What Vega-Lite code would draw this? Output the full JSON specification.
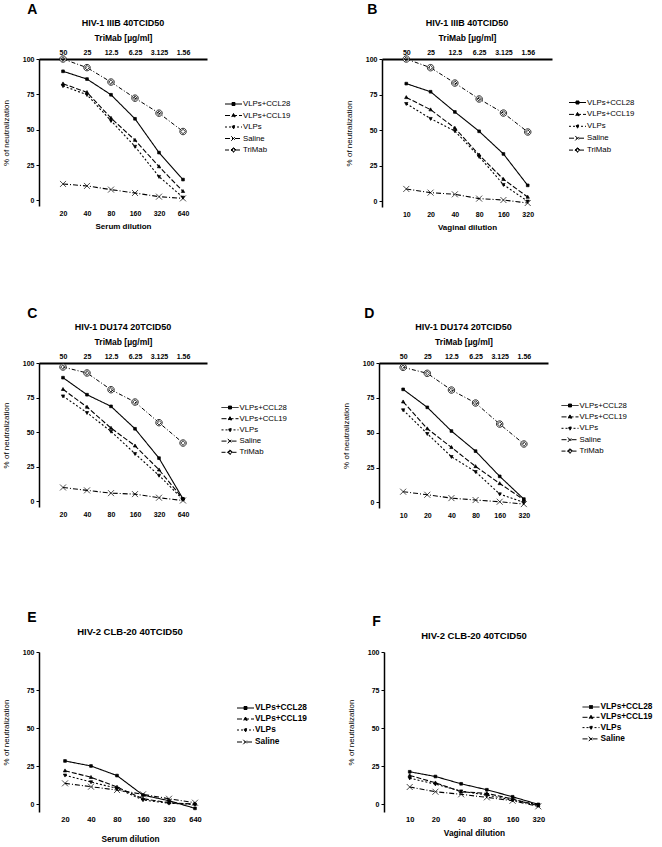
{
"$schema": "https://vega.github.io/schema/vega-lite/v6.json",
"padding": {"left": 2, "top": 3, "right": 0, "bottom": 0},
"config": {
  "font": "Liberation Sans",
  "view": {"stroke": null},
  "axis": {"grid": false, "labelFont": "Liberation Sans", "labelFontWeight": "bold", "labelFontSize": 7, "labelColor": "#000", "titleColor": "#000", "titleFont": "Liberation Sans", "titleFontWeight": "bold", "titleFontSize": 8},
  "axisY": {"domainColor": "#000", "domainWidth": 1.5, "tickColor": "#000", "tickSize": 3, "tickWidth": 1, "labelPadding": 2, "titleFontWeight": "normal", "titlePadding": 12},
  "legend": {"labelFont": "Liberation Sans", "labelColor": "#000", "padding": 0},
  "title": {"color": "#000", "fontWeight": "bold", "font": "Liberation Sans"}
},
"spacing": 92,
"vconcat": [
{
"spacing": 76,
"vconcat": [
{
"spacing": 54,
"hconcat": [
{
"title": {"text": "A", "anchor": "start", "fontSize": 14, "dx": 25, "offset": 2},
"vconcat": [{
  "width": 168, "height": 147,
  "title": {"text": "HIV-1 IIIB 40TCID50", "fontSize": 9, "anchor": "middle", "frame": "group", "offset": 5},
  "data": {"values": [
    {"series":"VLPs+CCL28","dilution":20,"value":91.3},{"series":"VLPs+CCL28","dilution":40,"value":85.8},{"series":"VLPs+CCL28","dilution":80,"value":74.7},{"series":"VLPs+CCL28","dilution":160,"value":57.7},{"series":"VLPs+CCL28","dilution":320,"value":33.8},{"series":"VLPs+CCL28","dilution":640,"value":14.7},
    {"series":"VLPs+CCL19","dilution":20,"value":82.5},{"series":"VLPs+CCL19","dilution":40,"value":76.4},{"series":"VLPs+CCL19","dilution":80,"value":58.2},{"series":"VLPs+CCL19","dilution":160,"value":42.6},{"series":"VLPs+CCL19","dilution":320,"value":23.9},{"series":"VLPs+CCL19","dilution":640,"value":6.4},
    {"series":"VLPs","dilution":20,"value":81},{"series":"VLPs","dilution":40,"value":74.7},{"series":"VLPs","dilution":80,"value":56.3},{"series":"VLPs","dilution":160,"value":38.1},{"series":"VLPs","dilution":320,"value":16.8},{"series":"VLPs","dilution":640,"value":2.1},
    {"series":"Saline","dilution":20,"value":11.6},{"series":"Saline","dilution":40,"value":10.2},{"series":"Saline","dilution":80,"value":7.6},{"series":"Saline","dilution":160,"value":5.2},{"series":"Saline","dilution":320,"value":2.6},{"series":"Saline","dilution":640,"value":1.4},
    {"series":"TriMab","dilution":20,"conc":50,"value":100},{"series":"TriMab","dilution":40,"conc":25,"value":93.9},{"series":"TriMab","dilution":80,"conc":12.5,"value":83.7},{"series":"TriMab","dilution":160,"conc":6.25,"value":72.3},{"series":"TriMab","dilution":320,"conc":3.125,"value":61.7},{"series":"TriMab","dilution":640,"conc":1.56,"value":48.7}
  ]},
  "encoding": {"y": {"field": "value", "type": "quantitative", "scale": {"domain": [-4, 100], "nice": false, "zero": false}, "axis": {"values": [0, 25, 50, 75, 100], "title": "% of neutralization"}}},
  "layer": [
    {"data": {"values": [{}]}, "mark": {"type": "rule", "strokeDash": [6, 4], "color": "#555", "strokeWidth": 1.5}, "encoding": {"y": {"datum": 50}}},
    {
      "encoding": {"x": {"field": "dilution", "type": "quantitative", "scale": {"type": "log", "base": 2, "domain": [10, 1280], "nice": false}, "axis": {"values": [20, 40, 80, 160, 320, 640], "format": "d", "domain": false, "ticks": false, "labelPadding": 3, "title": "Serum dilution", "titlePadding": 6}}},
      "layer": [
        {"transform": [{"filter": "datum.series !== 'TriMab'"}], "mark": {"type": "line", "color": "#000", "strokeWidth": 1.1},
         "encoding": {"strokeDash": {"field": "series", "scale": {"domain": ["VLPs+CCL28", "VLPs+CCL19", "VLPs", "Saline"], "range": [[1, 0], [5, 2], [2, 2], [5, 2, 1, 2]]}, "legend": null}}},
        {"transform": [{"filter": "datum.series !== 'TriMab'"}], "mark": {"type": "point", "filled": true, "fill": "#000", "stroke": "#000", "strokeWidth": 0.7, "size": 36, "opacity": 1},
         "encoding": {"shape": {"field": "series", "scale": {"domain": ["VLPs+CCL28", "VLPs+CCL19", "VLPs", "Saline"], "range": ["M-0.45,-0.45H0.45V0.45H-0.45Z", "M0,-0.6L0.55,0.4H-0.55Z", "M0,0.6L0.55,-0.4H-0.55Z", "M-1,-1L1,1M-1,1L1,-1"]}, "legend": null}}},
        {"mark": {"type": "point", "filled": true, "fill": "#000", "stroke": "#000", "strokeWidth": 1, "size": 100, "opacity": 0},
         "encoding": {
           "shape": {"field": "series", "scale": {"domain": ["VLPs+CCL28", "VLPs+CCL19", "VLPs", "Saline", "TriMab"], "range": ["M-1.7,0H1.7M-0.3,-0.3H0.3V0.3H-0.3Z", "M-1.7,0H1.7M0,-0.4L0.35,0.25H-0.35Z", "M-1.7,0H1.7M0,0.4L0.35,-0.25H-0.35Z", "M-1.7,0H1.7M-0.45,-0.45L0.45,0.45M-0.45,0.45L0.45,-0.45", "M-1.7,0H-0.5M0.5,0H1.7M0,-0.5L0.5,0L0,0.5L-0.5,0ZM0,-0.28L-0.28,0L0,0.28L0.28,0Z"]},
             "legend": {"title": null, "orient": "none", "legendX": 189, "legendY": 39.5, "symbolSize": 100, "symbolStrokeWidth": 1, "symbolOpacity": 1, "labelOffset": 4, "rowPadding": 1.5, "labelFontSize": 7.8}},
           "strokeDash": {"field": "series", "scale": {"domain": ["VLPs+CCL28", "VLPs+CCL19", "VLPs", "Saline", "TriMab"], "range": [[1, 0], [5, 2], [2, 2], [5, 2, 1, 2], [4, 2, 1, 2]]},
             "legend": {"title": null, "orient": "none", "legendX": 189, "legendY": 39.5, "symbolSize": 100, "symbolStrokeWidth": 1, "symbolOpacity": 1, "labelOffset": 4, "rowPadding": 1.5, "labelFontSize": 7.8}}
         }}
      ],
      "resolve": {"scale": {"shape": "independent", "strokeDash": "independent"}}
    },
    {
      "transform": [{"filter": "datum.series === 'TriMab'"}],
      "encoding": {"x": {"field": "conc", "type": "quantitative", "scale": {"type": "log", "base": 2, "domain": [0.78125, 100], "reverse": true, "nice": false}, "axis": {"orient": "top", "values": [50, 25, 12.5, 6.25, 3.125, 1.56], "format": "~g", "domain": true, "domainColor": "#000", "domainWidth": 2, "ticks": false, "labelPadding": 4, "title": "TriMab [µg/ml]", "titleFontSize": 8.5, "titlePadding": 6}}},
      "layer": [
        {"mark": {"type": "line", "color": "#000", "strokeWidth": 1, "strokeDash": [4, 2, 1, 2]}},
        {"mark": {"type": "point", "filled": true, "fill": "#fff", "stroke": "#000", "strokeWidth": 0.8, "size": 42, "opacity": 1, "shape": "M-1,0A1,1 0 1,0 1,0A1,1 0 1,0 -1,0ZM0,-0.7L0.7,0L0,0.7L-0.7,0Z"}}
      ]
    }
  ],
  "resolve": {"scale": {"x": "independent"}}
}]
},
{
"title": {"text": "B", "anchor": "start", "fontSize": 14, "dx": 22, "offset": 2},
"vconcat": [{
  "width": 170, "height": 148,
  "title": {"text": "HIV-1 IIIB 40TCID50", "fontSize": 9, "anchor": "middle", "frame": "group", "offset": 5},
  "data": {"values": [
    {"series":"VLPs+CCL28","dilution":10,"value":82.7},{"series":"VLPs+CCL28","dilution":20,"value":77},{"series":"VLPs+CCL28","dilution":40,"value":62.8},{"series":"VLPs+CCL28","dilution":80,"value":49.2},{"series":"VLPs+CCL28","dilution":160,"value":33.3},{"series":"VLPs+CCL28","dilution":320,"value":11.2},
    {"series":"VLPs+CCL19","dilution":10,"value":73},{"series":"VLPs+CCL19","dilution":20,"value":64.4},{"series":"VLPs+CCL19","dilution":40,"value":51.5},{"series":"VLPs+CCL19","dilution":80,"value":32.6},{"series":"VLPs+CCL19","dilution":160,"value":15.5},{"series":"VLPs+CCL19","dilution":320,"value":3},
    {"series":"VLPs","dilution":10,"value":68.6},{"series":"VLPs","dilution":20,"value":58.1},{"series":"VLPs","dilution":40,"value":49.4},{"series":"VLPs","dilution":80,"value":31.4},{"series":"VLPs","dilution":160,"value":11.7},{"series":"VLPs","dilution":320,"value":0},
    {"series":"Saline","dilution":10,"value":8.7},{"series":"Saline","dilution":20,"value":6.1},{"series":"Saline","dilution":40,"value":4.9},{"series":"Saline","dilution":80,"value":1.9},{"series":"Saline","dilution":160,"value":0.9},{"series":"Saline","dilution":320,"value":-1.2},
    {"series":"TriMab","dilution":10,"conc":50,"value":100},{"series":"TriMab","dilution":20,"conc":25,"value":93.9},{"series":"TriMab","dilution":40,"conc":12.5,"value":83.1},{"series":"TriMab","dilution":80,"conc":6.25,"value":71.9},{"series":"TriMab","dilution":160,"conc":3.125,"value":62},{"series":"TriMab","dilution":320,"conc":1.56,"value":48.7}
  ]},
  "encoding": {"y": {"field": "value", "type": "quantitative", "scale": {"domain": [-4, 100], "nice": false, "zero": false}, "axis": {"values": [0, 25, 50, 75, 100], "title": "% of neutralization"}}},
  "layer": [
    {"data": {"values": [{}]}, "mark": {"type": "rule", "strokeDash": [6, 4], "color": "#333", "strokeWidth": 1.3}, "encoding": {"y": {"datum": 50}}},
    {
      "encoding": {"x": {"field": "dilution", "type": "quantitative", "scale": {"type": "log", "base": 2, "domain": [5, 640], "nice": false}, "axis": {"values": [10, 20, 40, 80, 160, 320], "format": "d", "domain": false, "ticks": false, "labelPadding": 3, "title": "Vaginal dilution", "titlePadding": 6}}},
      "layer": [
        {"transform": [{"filter": "datum.series !== 'TriMab'"}], "mark": {"type": "line", "color": "#000", "strokeWidth": 1.1},
         "encoding": {"strokeDash": {"field": "series", "scale": {"domain": ["VLPs+CCL28", "VLPs+CCL19", "VLPs", "Saline"], "range": [[1, 0], [5, 2], [2, 2], [5, 2, 1, 2]]}, "legend": null}}},
        {"transform": [{"filter": "datum.series !== 'TriMab'"}], "mark": {"type": "point", "filled": true, "fill": "#000", "stroke": "#000", "strokeWidth": 0.7, "size": 36, "opacity": 1},
         "encoding": {"shape": {"field": "series", "scale": {"domain": ["VLPs+CCL28", "VLPs+CCL19", "VLPs", "Saline"], "range": ["M-0.45,-0.45H0.45V0.45H-0.45Z", "M0,-0.6L0.55,0.4H-0.55Z", "M0,0.6L0.55,-0.4H-0.55Z", "M-1,-1L1,1M-1,1L1,-1"]}, "legend": null}}},
        {"mark": {"type": "point", "filled": true, "fill": "#000", "stroke": "#000", "strokeWidth": 1, "size": 100, "opacity": 0},
         "encoding": {
           "shape": {"field": "series", "scale": {"domain": ["VLPs+CCL28", "VLPs+CCL19", "VLPs", "Saline", "TriMab"], "range": ["M-1.7,0H1.7M-0.3,-0.3H0.3V0.3H-0.3Z", "M-1.7,0H1.7M0,-0.4L0.35,0.25H-0.35Z", "M-1.7,0H1.7M0,0.4L0.35,-0.25H-0.35Z", "M-1.7,0H1.7M-0.45,-0.45L0.45,0.45M-0.45,0.45L0.45,-0.45", "M-1.7,0H-0.5M0.5,0H1.7M0,-0.5L0.5,0L0,0.5L-0.5,0ZM0,-0.28L-0.28,0L0,0.28L0.28,0Z"]},
             "legend": {"title": null, "orient": "none", "legendX": 190, "legendY": 38, "symbolSize": 100, "symbolStrokeWidth": 1, "symbolOpacity": 1, "labelOffset": 4, "rowPadding": 1.9, "labelFontSize": 7.8}},
           "strokeDash": {"field": "series", "scale": {"domain": ["VLPs+CCL28", "VLPs+CCL19", "VLPs", "Saline", "TriMab"], "range": [[1, 0], [5, 2], [2, 2], [5, 2, 1, 2], [4, 2, 1, 2]]},
             "legend": {"title": null, "orient": "none", "legendX": 190, "legendY": 38, "symbolSize": 100, "symbolStrokeWidth": 1, "symbolOpacity": 1, "labelOffset": 4, "rowPadding": 1.9, "labelFontSize": 7.8}}
         }}
      ],
      "resolve": {"scale": {"shape": "independent", "strokeDash": "independent"}}
    },
    {
      "transform": [{"filter": "datum.series === 'TriMab'"}],
      "encoding": {"x": {"field": "conc", "type": "quantitative", "scale": {"type": "log", "base": 2, "domain": [0.78125, 100], "reverse": true, "nice": false}, "axis": {"orient": "top", "values": [50, 25, 12.5, 6.25, 3.125, 1.56], "format": "~g", "domain": true, "domainColor": "#000", "domainWidth": 2, "ticks": false, "labelPadding": 4, "title": "TriMab [µg/ml]", "titleFontSize": 8.5, "titlePadding": 6}}},
      "layer": [
        {"mark": {"type": "line", "color": "#000", "strokeWidth": 1, "strokeDash": [4, 2, 1, 2]}},
        {"mark": {"type": "point", "filled": true, "fill": "#fff", "stroke": "#000", "strokeWidth": 0.8, "size": 42, "opacity": 1, "shape": "M-1,0A1,1 0 1,0 1,0A1,1 0 1,0 -1,0ZM0,-0.7L0.7,0L0,0.7L-0.7,0Z"}}
      ]
    }
  ],
  "resolve": {"scale": {"x": "independent"}}
}]
}
]
},
{
"spacing": 54,
"hconcat": [
{
"title": {"text": "C", "anchor": "start", "fontSize": 14, "dx": 25, "offset": 2},
"vconcat": [{
  "width": 168, "height": 144,
  "title": {"text": "HIV-1 DU174 20TCID50", "fontSize": 9, "anchor": "middle", "frame": "group", "offset": 5},
  "data": {"values": [
    {"series":"VLPs+CCL28","dilution":20,"value":89.4},{"series":"VLPs+CCL28","dilution":40,"value":77.1},{"series":"VLPs+CCL28","dilution":80,"value":68.7},{"series":"VLPs+CCL28","dilution":160,"value":52.5},{"series":"VLPs+CCL28","dilution":320,"value":31.3},{"series":"VLPs+CCL28","dilution":640,"value":1.9},
    {"series":"VLPs+CCL19","dilution":20,"value":81},{"series":"VLPs+CCL19","dilution":40,"value":68.2},{"series":"VLPs+CCL19","dilution":80,"value":53},{"series":"VLPs+CCL19","dilution":160,"value":40.2},{"series":"VLPs+CCL19","dilution":320,"value":22.9},{"series":"VLPs+CCL19","dilution":640,"value":1.9},
    {"series":"VLPs","dilution":20,"value":76.1},{"series":"VLPs","dilution":40,"value":64.1},{"series":"VLPs","dilution":80,"value":50.6},{"series":"VLPs","dilution":160,"value":34.5},{"series":"VLPs","dilution":320,"value":18.8},{"series":"VLPs","dilution":640,"value":1.4},
    {"series":"Saline","dilution":20,"value":10.1},{"series":"Saline","dilution":40,"value":8},{"series":"Saline","dilution":80,"value":6},{"series":"Saline","dilution":160,"value":5.3},{"series":"Saline","dilution":320,"value":2.7},{"series":"Saline","dilution":640,"value":0.7},
    {"series":"TriMab","dilution":20,"conc":50,"value":97.1},{"series":"TriMab","dilution":40,"conc":25,"value":92.8},{"series":"TriMab","dilution":80,"conc":12.5,"value":80.7},{"series":"TriMab","dilution":160,"conc":6.25,"value":71.8},{"series":"TriMab","dilution":320,"conc":3.125,"value":56.9},{"series":"TriMab","dilution":640,"conc":1.56,"value":42.2}
  ]},
  "encoding": {"y": {"field": "value", "type": "quantitative", "scale": {"domain": [-4, 100], "nice": false, "zero": false}, "axis": {"values": [0, 25, 50, 75, 100], "title": "% of neutralization"}}},
  "layer": [
    {"data": {"values": [{}]}, "mark": {"type": "rule", "color": "#999", "strokeWidth": 2}, "encoding": {"y": {"datum": 0}}},
    {"data": {"values": [{}]}, "mark": {"type": "rule", "strokeDash": [6, 4], "color": "#333", "strokeWidth": 1.3}, "encoding": {"y": {"datum": 50}}},
    {
      "encoding": {"x": {"field": "dilution", "type": "quantitative", "scale": {"type": "log", "base": 2, "domain": [10, 1280], "nice": false}, "axis": {"values": [20, 40, 80, 160, 320, 640], "format": "d", "domain": false, "ticks": false, "labelPadding": 3, "title": null}}},
      "layer": [
        {"transform": [{"filter": "datum.series !== 'TriMab'"}], "mark": {"type": "line", "color": "#000", "strokeWidth": 1.1},
         "encoding": {"strokeDash": {"field": "series", "scale": {"domain": ["VLPs+CCL28", "VLPs+CCL19", "VLPs", "Saline"], "range": [[1, 0], [5, 2], [2, 2], [5, 2, 1, 2]]}, "legend": null}}},
        {"transform": [{"filter": "datum.series !== 'TriMab'"}], "mark": {"type": "point", "filled": true, "fill": "#000", "stroke": "#000", "strokeWidth": 0.7, "size": 36, "opacity": 1},
         "encoding": {"shape": {"field": "series", "scale": {"domain": ["VLPs+CCL28", "VLPs+CCL19", "VLPs", "Saline"], "range": ["M-0.45,-0.45H0.45V0.45H-0.45Z", "M0,-0.6L0.55,0.4H-0.55Z", "M0,0.6L0.55,-0.4H-0.55Z", "M-1,-1L1,1M-1,1L1,-1"]}, "legend": null}}},
        {"mark": {"type": "point", "filled": true, "fill": "#000", "stroke": "#000", "strokeWidth": 1, "size": 100, "opacity": 0},
         "encoding": {
           "shape": {"field": "series", "scale": {"domain": ["VLPs+CCL28", "VLPs+CCL19", "VLPs", "Saline", "TriMab"], "range": ["M-1.7,0H1.7M-0.3,-0.3H0.3V0.3H-0.3Z", "M-1.7,0H1.7M0,-0.4L0.35,0.25H-0.35Z", "M-1.7,0H1.7M0,0.4L0.35,-0.25H-0.35Z", "M-1.7,0H1.7M-0.45,-0.45L0.45,0.45M-0.45,0.45L0.45,-0.45", "M-1.7,0H-0.5M0.5,0H1.7M0,-0.5L0.5,0L0,0.5L-0.5,0ZM0,-0.28L-0.28,0L0,0.28L0.28,0Z"]},
             "legend": {"title": null, "orient": "none", "legendX": 185.5, "legendY": 39, "symbolSize": 100, "symbolStrokeWidth": 1, "symbolOpacity": 1, "labelOffset": 4, "rowPadding": 1.2, "labelFontSize": 7.8}},
           "strokeDash": {"field": "series", "scale": {"domain": ["VLPs+CCL28", "VLPs+CCL19", "VLPs", "Saline", "TriMab"], "range": [[1, 0], [5, 2], [2, 2], [5, 2, 1, 2], [4, 2, 1, 2]]},
             "legend": {"title": null, "orient": "none", "legendX": 185.5, "legendY": 39, "symbolSize": 100, "symbolStrokeWidth": 1, "symbolOpacity": 1, "labelOffset": 4, "rowPadding": 1.2, "labelFontSize": 7.8}}
         }}
      ],
      "resolve": {"scale": {"shape": "independent", "strokeDash": "independent"}}
    },
    {
      "transform": [{"filter": "datum.series === 'TriMab'"}],
      "encoding": {"x": {"field": "conc", "type": "quantitative", "scale": {"type": "log", "base": 2, "domain": [0.78125, 100], "reverse": true, "nice": false}, "axis": {"orient": "top", "values": [50, 25, 12.5, 6.25, 3.125, 1.56], "format": "~g", "domain": true, "domainColor": "#000", "domainWidth": 2, "ticks": false, "labelPadding": 4, "title": "TriMab [µg/ml]", "titleFontSize": 8.5, "titlePadding": 6}}},
      "layer": [
        {"mark": {"type": "line", "color": "#000", "strokeWidth": 1, "strokeDash": [4, 2, 1, 2]}},
        {"mark": {"type": "point", "filled": true, "fill": "#fff", "stroke": "#000", "strokeWidth": 0.8, "size": 42, "opacity": 1, "shape": "M-1,0A1,1 0 1,0 1,0A1,1 0 1,0 -1,0ZM0,-0.7L0.7,0L0,0.7L-0.7,0Z"}}
      ]
    }
  ],
  "resolve": {"scale": {"x": "independent"}}
}]
},
{
"title": {"text": "D", "anchor": "start", "fontSize": 14, "dx": 22, "offset": 2},
"vconcat": [{
  "width": 169, "height": 145,
  "title": {"text": "HIV-1 DU174 20TCID50", "fontSize": 9, "anchor": "middle", "frame": "group", "offset": 5},
  "data": {"values": [
    {"series":"VLPs+CCL28","dilution":10,"value":81.1},{"series":"VLPs+CCL28","dilution":20,"value":68.2},{"series":"VLPs+CCL28","dilution":40,"value":51.2},{"series":"VLPs+CCL28","dilution":80,"value":36.8},{"series":"VLPs+CCL28","dilution":160,"value":18.7},{"series":"VLPs+CCL28","dilution":320,"value":2.4},
    {"series":"VLPs+CCL19","dilution":10,"value":72.2},{"series":"VLPs+CCL19","dilution":20,"value":52.9},{"series":"VLPs+CCL19","dilution":40,"value":39.5},{"series":"VLPs+CCL19","dilution":80,"value":25.8},{"series":"VLPs+CCL19","dilution":160,"value":13.6},{"series":"VLPs+CCL19","dilution":320,"value":1.9},
    {"series":"VLPs","dilution":10,"value":66.3},{"series":"VLPs","dilution":20,"value":49.3},{"series":"VLPs","dilution":40,"value":32.8},{"series":"VLPs","dilution":80,"value":22},{"series":"VLPs","dilution":160,"value":6},{"series":"VLPs","dilution":320,"value":0},
    {"series":"Saline","dilution":10,"value":7.7},{"series":"Saline","dilution":20,"value":5.5},{"series":"Saline","dilution":40,"value":3.1},{"series":"Saline","dilution":80,"value":1.7},{"series":"Saline","dilution":160,"value":0.5},{"series":"Saline","dilution":320,"value":-1.2},
    {"series":"TriMab","dilution":10,"conc":50,"value":96.9},{"series":"TriMab","dilution":20,"conc":25,"value":92.6},{"series":"TriMab","dilution":40,"conc":12.5,"value":80.6},{"series":"TriMab","dilution":80,"conc":6.25,"value":71.3},{"series":"TriMab","dilution":160,"conc":3.125,"value":56.2},{"series":"TriMab","dilution":320,"conc":1.56,"value":41.9}
  ]},
  "encoding": {"y": {"field": "value", "type": "quantitative", "scale": {"domain": [-4, 100], "nice": false, "zero": false}, "axis": {"values": [0, 25, 50, 75, 100], "title": "% of neutralization"}}},
  "layer": [
    {"data": {"values": [{}]}, "mark": {"type": "rule", "color": "#555", "strokeWidth": 1.5}, "encoding": {"y": {"datum": 0}}},
    {"data": {"values": [{}]}, "mark": {"type": "rule", "strokeDash": [2, 2], "color": "#999", "strokeWidth": 0.8}, "encoding": {"y": {"datum": 50}}},
    {
      "encoding": {"x": {"field": "dilution", "type": "quantitative", "scale": {"type": "log", "base": 2, "domain": [5, 640], "nice": false}, "axis": {"values": [10, 20, 40, 80, 160, 320], "format": "d", "domain": false, "ticks": false, "labelPadding": 3, "title": null}}},
      "layer": [
        {"transform": [{"filter": "datum.series !== 'TriMab'"}], "mark": {"type": "line", "color": "#000", "strokeWidth": 1.1},
         "encoding": {"strokeDash": {"field": "series", "scale": {"domain": ["VLPs+CCL28", "VLPs+CCL19", "VLPs", "Saline"], "range": [[1, 0], [5, 2], [2, 2], [5, 2, 1, 2]]}, "legend": null}}},
        {"transform": [{"filter": "datum.series !== 'TriMab'"}], "mark": {"type": "point", "filled": true, "fill": "#000", "stroke": "#000", "strokeWidth": 0.7, "size": 36, "opacity": 1},
         "encoding": {"shape": {"field": "series", "scale": {"domain": ["VLPs+CCL28", "VLPs+CCL19", "VLPs", "Saline"], "range": ["M-0.45,-0.45H0.45V0.45H-0.45Z", "M0,-0.6L0.55,0.4H-0.55Z", "M0,0.6L0.55,-0.4H-0.55Z", "M-1,-1L1,1M-1,1L1,-1"]}, "legend": null}}},
        {"mark": {"type": "point", "filled": true, "fill": "#000", "stroke": "#000", "strokeWidth": 1, "size": 100, "opacity": 0},
         "encoding": {
           "shape": {"field": "series", "scale": {"domain": ["VLPs+CCL28", "VLPs+CCL19", "VLPs", "Saline", "TriMab"], "range": ["M-1.7,0H1.7M-0.3,-0.3H0.3V0.3H-0.3Z", "M-1.7,0H1.7M0,-0.4L0.35,0.25H-0.35Z", "M-1.7,0H1.7M0,0.4L0.35,-0.25H-0.35Z", "M-1.7,0H1.7M-0.45,-0.45L0.45,0.45M-0.45,0.45L0.45,-0.45", "M-1.7,0H-0.5M0.5,0H1.7M0,-0.5L0.5,0L0,0.5L-0.5,0ZM0,-0.28L-0.28,0L0,0.28L0.28,0Z"]},
             "legend": {"title": null, "orient": "none", "legendX": 185.5, "legendY": 37, "symbolSize": 100, "symbolStrokeWidth": 1, "symbolOpacity": 1, "labelOffset": 4, "rowPadding": 1.4, "labelFontSize": 7.8}},
           "strokeDash": {"field": "series", "scale": {"domain": ["VLPs+CCL28", "VLPs+CCL19", "VLPs", "Saline", "TriMab"], "range": [[1, 0], [5, 2], [2, 2], [5, 2, 1, 2], [4, 2, 1, 2]]},
             "legend": {"title": null, "orient": "none", "legendX": 185.5, "legendY": 37, "symbolSize": 100, "symbolStrokeWidth": 1, "symbolOpacity": 1, "labelOffset": 4, "rowPadding": 1.4, "labelFontSize": 7.8}}
         }}
      ],
      "resolve": {"scale": {"shape": "independent", "strokeDash": "independent"}}
    },
    {
      "transform": [{"filter": "datum.series === 'TriMab'"}],
      "encoding": {"x": {"field": "conc", "type": "quantitative", "scale": {"type": "log", "base": 2, "domain": [0.78125, 100], "reverse": true, "nice": false}, "axis": {"orient": "top", "values": [50, 25, 12.5, 6.25, 3.125, 1.56], "format": "~g", "domain": true, "domainColor": "#000", "domainWidth": 2, "ticks": false, "labelPadding": 4, "title": "TriMab [µg/ml]", "titleFontSize": 8.5, "titlePadding": 6}}},
      "layer": [
        {"mark": {"type": "line", "color": "#000", "strokeWidth": 1, "strokeDash": [4, 2, 1, 2]}},
        {"mark": {"type": "point", "filled": true, "fill": "#fff", "stroke": "#000", "strokeWidth": 0.8, "size": 42, "opacity": 1, "shape": "M-1,0A1,1 0 1,0 1,0A1,1 0 1,0 -1,0ZM0,-0.7L0.7,0L0,0.7L-0.7,0Z"}}
      ]
    }
  ],
  "resolve": {"scale": {"x": "independent"}}
}]
}
]
}
]
},
{
"spacing": 40,
"hconcat": [
{
"title": {"text": "E", "anchor": "start", "fontSize": 14, "dx": 25, "offset": 2},
"vconcat": [{
  "width": 182, "height": 160,
  "title": {"text": "HIV-2 CLB-20 40TCID50", "fontSize": 9.5, "anchor": "middle", "frame": "group", "offset": 12},
  "data": {"values": [
    {"series":"VLPs+CCL28","dilution":20,"value":28.5},{"series":"VLPs+CCL28","dilution":40,"value":25.2},{"series":"VLPs+CCL28","dilution":80,"value":18.9},{"series":"VLPs+CCL28","dilution":160,"value":6.1},{"series":"VLPs+CCL28","dilution":320,"value":2.4},{"series":"VLPs+CCL28","dilution":640,"value":-2.6},
    {"series":"VLPs+CCL19","dilution":20,"value":22.1},{"series":"VLPs+CCL19","dilution":40,"value":17.8},{"series":"VLPs+CCL19","dilution":80,"value":11.4},{"series":"VLPs+CCL19","dilution":160,"value":3.7},{"series":"VLPs+CCL19","dilution":320,"value":1.1},{"series":"VLPs+CCL19","dilution":640,"value":0.2},
    {"series":"VLPs","dilution":20,"value":19.1},{"series":"VLPs","dilution":40,"value":14.7},{"series":"VLPs","dilution":80,"value":10.5},{"series":"VLPs","dilution":160,"value":2.9},{"series":"VLPs","dilution":320,"value":0.7},{"series":"VLPs","dilution":640,"value":0},
    {"series":"Saline","dilution":20,"value":13.8},{"series":"Saline","dilution":40,"value":11.6},{"series":"Saline","dilution":80,"value":9.4},{"series":"Saline","dilution":160,"value":6.6},{"series":"Saline","dilution":320,"value":3.7},{"series":"Saline","dilution":640,"value":1.1}
  ]},
  "encoding": {"y": {"field": "value", "type": "quantitative", "scale": {"domain": [-5, 100], "nice": false, "zero": false}, "axis": {"values": [0, 25, 50, 75, 100], "title": "% of neutralization"}}},
  "layer": [
    {"data": {"values": [{}]}, "mark": {"type": "rule", "color": "#999", "strokeWidth": 2}, "encoding": {"y": {"datum": 0}}},
    {"data": {"values": [{}]}, "mark": {"type": "rule", "strokeDash": [2, 2], "color": "#999", "strokeWidth": 0.8}, "encoding": {"y": {"datum": 50}}},
    {
      "encoding": {"x": {"field": "dilution", "type": "quantitative", "scale": {"type": "log", "base": 2, "domain": [10, 1280], "nice": false}, "axis": {"values": [20, 40, 80, 160, 320, 640], "format": "d", "domain": false, "ticks": false, "labelPadding": 3, "labelFontSize": 7.5, "title": "Serum dilution", "titleFontSize": 8.3, "titlePadding": 12}}},
      "layer": [
        {"mark": {"type": "line", "color": "#000", "strokeWidth": 1.1},
         "encoding": {"strokeDash": {"field": "series", "scale": {"domain": ["VLPs+CCL28", "VLPs+CCL19", "VLPs", "Saline"], "range": [[1, 0], [5, 2], [2, 2], [5, 2, 1, 2]]}, "legend": null}}},
        {"mark": {"type": "point", "filled": true, "fill": "#000", "stroke": "#000", "strokeWidth": 0.7, "size": 36, "opacity": 1},
         "encoding": {"shape": {"field": "series", "scale": {"domain": ["VLPs+CCL28", "VLPs+CCL19", "VLPs", "Saline"], "range": ["M-0.45,-0.45H0.45V0.45H-0.45Z", "M0,-0.6L0.55,0.4H-0.55Z", "M0,0.6L0.55,-0.4H-0.55Z", "M-1,-1L1,1M-1,1L1,-1"]}, "legend": null}}},
        {"mark": {"type": "point", "filled": true, "fill": "#000", "stroke": "#000", "strokeWidth": 1, "size": 100, "opacity": 0},
         "encoding": {
           "shape": {"field": "series", "scale": {"domain": ["VLPs+CCL28", "VLPs+CCL19", "VLPs", "Saline"], "range": ["M-1.7,0H1.7M-0.3,-0.3H0.3V0.3H-0.3Z", "M-1.7,0H1.7M0,-0.4L0.35,0.25H-0.35Z", "M-1.7,0H1.7M0,0.4L0.35,-0.25H-0.35Z", "M-1.7,0H1.7M-0.45,-0.45L0.45,0.45M-0.45,0.45L0.45,-0.45"]},
             "legend": {"title": null, "orient": "none", "legendX": 201, "legendY": 50.5, "symbolSize": 100, "symbolStrokeWidth": 1, "symbolOpacity": 1, "labelOffset": 4, "rowPadding": 2, "labelFontSize": 8.3, "labelFontWeight": "bold"}},
           "strokeDash": {"field": "series", "scale": {"domain": ["VLPs+CCL28", "VLPs+CCL19", "VLPs", "Saline"], "range": [[1, 0], [5, 2], [2, 2], [5, 2, 1, 2]]},
             "legend": {"title": null, "orient": "none", "legendX": 201, "legendY": 50.5, "symbolSize": 100, "symbolStrokeWidth": 1, "symbolOpacity": 1, "labelOffset": 4, "rowPadding": 2, "labelFontSize": 8.3, "labelFontWeight": "bold"}}
         }}
      ],
      "resolve": {"scale": {"shape": "independent", "strokeDash": "independent"}}
    }
  ]
}]
},
{
"title": {"text": "F", "anchor": "start", "fontSize": 14, "dx": 25, "offset": 2},
"vconcat": [{
  "width": 180, "height": 160,
  "title": {"text": "HIV-2 CLB-20 40TCID50", "fontSize": 9.5, "anchor": "middle", "frame": "group", "offset": 8},
  "data": {"values": [
    {"series":"VLPs+CCL28","dilution":10,"value":21.4},{"series":"VLPs+CCL28","dilution":20,"value":18.3},{"series":"VLPs+CCL28","dilution":40,"value":13.5},{"series":"VLPs+CCL28","dilution":80,"value":9.6},{"series":"VLPs+CCL28","dilution":160,"value":5},{"series":"VLPs+CCL28","dilution":320,"value":0},
    {"series":"VLPs+CCL19","dilution":10,"value":19},{"series":"VLPs+CCL19","dilution":20,"value":14.2},{"series":"VLPs+CCL19","dilution":40,"value":8.3},{"series":"VLPs+CCL19","dilution":80,"value":7.2},{"series":"VLPs+CCL19","dilution":160,"value":3.5},{"series":"VLPs+CCL19","dilution":320,"value":-0.9},
    {"series":"VLPs","dilution":10,"value":17.2},{"series":"VLPs","dilution":20,"value":13.3},{"series":"VLPs","dilution":40,"value":8.7},{"series":"VLPs","dilution":80,"value":6.1},{"series":"VLPs","dilution":160,"value":2.8},{"series":"VLPs","dilution":320,"value":-0.2},
    {"series":"Saline","dilution":10,"value":11.4},{"series":"Saline","dilution":20,"value":8.3},{"series":"Saline","dilution":40,"value":6.6},{"series":"Saline","dilution":80,"value":4.6},{"series":"Saline","dilution":160,"value":2.4},{"series":"Saline","dilution":320,"value":-1.3}
  ]},
  "encoding": {"y": {"field": "value", "type": "quantitative", "scale": {"domain": [-5, 100], "nice": false, "zero": false}, "axis": {"values": [0, 25, 50, 75, 100], "title": "% of neutralization"}}},
  "layer": [
    {"data": {"values": [{}]}, "mark": {"type": "rule", "color": "#666", "strokeWidth": 1.5}, "encoding": {"y": {"datum": 0}}},
    {"data": {"values": [{}]}, "mark": {"type": "rule", "strokeDash": [2, 2], "color": "#999", "strokeWidth": 0.8}, "encoding": {"y": {"datum": 50}}},
    {
      "encoding": {"x": {"field": "dilution", "type": "quantitative", "scale": {"type": "log", "base": 2, "domain": [5, 640], "nice": false}, "axis": {"values": [10, 20, 40, 80, 160, 320], "format": "d", "domain": false, "ticks": false, "labelPadding": 3, "labelFontSize": 7.5, "title": "Vaginal dilution", "titleFontSize": 8.3, "titlePadding": 6}}},
      "layer": [
        {"mark": {"type": "line", "color": "#000", "strokeWidth": 1.1},
         "encoding": {"strokeDash": {"field": "series", "scale": {"domain": ["VLPs+CCL28", "VLPs+CCL19", "VLPs", "Saline"], "range": [[1, 0], [5, 2], [2, 2], [5, 2, 1, 2]]}, "legend": null}}},
        {"mark": {"type": "point", "filled": true, "fill": "#000", "stroke": "#000", "strokeWidth": 0.7, "size": 36, "opacity": 1},
         "encoding": {"shape": {"field": "series", "scale": {"domain": ["VLPs+CCL28", "VLPs+CCL19", "VLPs", "Saline"], "range": ["M-0.45,-0.45H0.45V0.45H-0.45Z", "M0,-0.6L0.55,0.4H-0.55Z", "M0,0.6L0.55,-0.4H-0.55Z", "M-1,-1L1,1M-1,1L1,-1"]}, "legend": null}}},
        {"mark": {"type": "point", "filled": true, "fill": "#000", "stroke": "#000", "strokeWidth": 1, "size": 100, "opacity": 0},
         "encoding": {
           "shape": {"field": "series", "scale": {"domain": ["VLPs+CCL28", "VLPs+CCL19", "VLPs", "Saline"], "range": ["M-1.7,0H1.7M-0.3,-0.3H0.3V0.3H-0.3Z", "M-1.7,0H1.7M0,-0.4L0.35,0.25H-0.35Z", "M-1.7,0H1.7M0,0.4L0.35,-0.25H-0.35Z", "M-1.7,0H1.7M-0.45,-0.45L0.45,0.45M-0.45,0.45L0.45,-0.45"]},
             "legend": {"title": null, "orient": "none", "legendX": 201.5, "legendY": 49.5, "symbolSize": 100, "symbolStrokeWidth": 1, "symbolOpacity": 1, "labelOffset": 4, "rowPadding": 1.3, "labelFontSize": 8.3, "labelFontWeight": "bold"}},
           "strokeDash": {"field": "series", "scale": {"domain": ["VLPs+CCL28", "VLPs+CCL19", "VLPs", "Saline"], "range": [[1, 0], [5, 2], [2, 2], [5, 2, 1, 2]]},
             "legend": {"title": null, "orient": "none", "legendX": 201.5, "legendY": 49.5, "symbolSize": 100, "symbolStrokeWidth": 1, "symbolOpacity": 1, "labelOffset": 4, "rowPadding": 1.3, "labelFontSize": 8.3, "labelFontWeight": "bold"}}
         }}
      ],
      "resolve": {"scale": {"shape": "independent", "strokeDash": "independent"}}
    }
  ]
}]
}
]
}
]
}
